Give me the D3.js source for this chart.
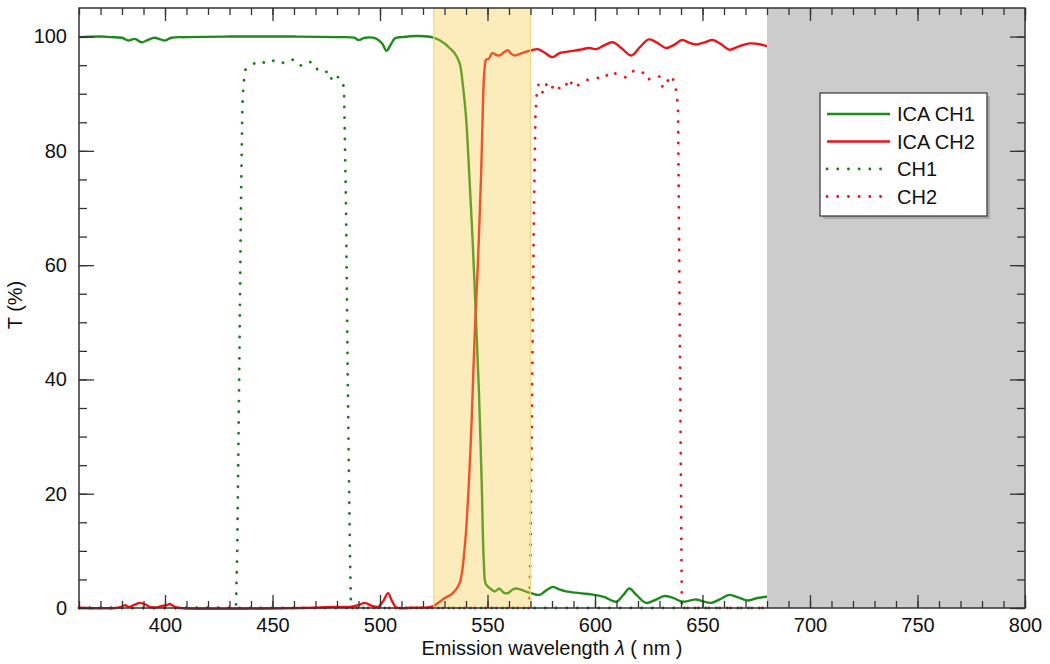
<!DOCTYPE html>
<html>
<head>
<meta charset="utf-8">
<script src="https://cdn.jsdelivr.net/npm/d3@7"></script>
<style>
  body { margin: 0; background: #fff; }
  text { font-family: "Liberation Sans", Arial, Helvetica, sans-serif; }
</style>
</head>
<body>
<div id="chart"></div>
<script>

///////////////////////////////////////////////////////////////////////////
///////////////////////////////// Data ////////////////////////////////////
///////////////////////////////////////////////////////////////////////////

// ICA CH1 (solid green) - wavelength (nm) / transmission (%)
var ica1Wl = [360, 370, 375, 380, 383, 386, 389, 392, 395, 398, 400, 403, 410, 430, 460, 480, 488, 490, 493, 498, 501, 503, 505, 507, 510, 518, 525, 530, 532.4, 534.7, 537, 538.6, 540, 541.5, 543, 544.5, 546, 547.3, 548.3, 549.2, 551, 553.3, 555.6, 557.5, 559.5, 561.5, 563.4, 567, 570.3, 574.2, 577, 580.4, 583, 586.6, 592.8, 599.7, 604.4, 609.8, 613, 616, 619, 623.7, 628, 632.3, 636, 640.8, 644, 647, 650, 654, 658, 662.5, 667, 671, 675, 680.3]
var ica1T  = [99.9, 100, 99.9, 99.8, 99.3, 99.6, 99.0, 99.4, 99.8, 99.5, 99.3, 99.8, 99.9, 100, 100, 99.9, 99.8, 99.4, 99.8, 99.7, 98.8, 97.5, 98.6, 99.7, 99.9, 100.1, 99.8, 98.8, 98.0, 97.1, 95.4, 91.3, 86, 76, 65, 52, 38, 22, 8, 4.2, 3.5, 2.9, 3.4, 2.7, 2.6, 3.2, 3.4, 3.0, 2.6, 2.3, 3.0, 3.7, 3.3, 2.9, 2.6, 2.3, 1.9, 1.1, 2.2, 3.4, 2.4, 0.9, 1.4, 2.1, 1.8, 1.1, 1.3, 1.5, 1.2, 0.9, 1.5, 2.3, 1.8, 1.3, 1.7, 2.0]

// ICA CH2 (solid red)
var ica2Wl = [360, 378, 380, 381.5, 383, 386, 388.3, 391, 393, 396, 399, 401, 402.3, 404, 406, 470, 478, 486, 490, 493, 496, 499, 501.5, 503.7, 505.5, 507.6, 515, 522, 524.6, 530, 533.9, 537, 539.3, 540.9, 542.4, 543.5, 544.4, 545.5, 546.3, 547.1, 547.9, 548.6, 549.4, 550.6, 552.2, 554, 555.6, 557.5, 559.5, 561, 562.6, 566, 570.3, 573.4, 576.5, 578.8, 580.4, 583.5, 588, 593, 597.4, 600.5, 604, 608.2, 612.5, 616.8, 621, 625, 629, 633, 637, 640.5, 644, 647, 651, 654.7, 658.5, 662.5, 667, 671.8, 676, 681]
var ica2T  = [0.05, 0.05, 0.3, 0.5, 0.2, 0.6, 0.9, 0.6, 0.2, 0.1, 0.4, 0.5, 0.7, 0.3, 0.05, 0.05, 0.2, 0.2, 0.5, 0.9, 0.4, 0.2, 1.2, 2.6, 1.3, 0.1, 0.05, 0.1, 0.3, 1.7, 2.6, 4.3, 10.2, 18.9, 30.6, 42.3, 51, 60, 68, 76.7, 88.4, 94.2, 96, 96.1, 97.1, 96.8, 96.7, 97.2, 97.6, 97.0, 96.7, 97.1, 97.6, 97.8, 97.2, 96.6, 96.4, 97.1, 97.4, 97.7, 98.0, 97.8, 98.4, 99.0, 97.9, 96.7, 98.2, 99.5, 98.9, 98.0, 98.6, 99.4, 98.9, 98.6, 99.0, 99.4, 98.7, 97.7, 98.3, 98.8, 98.7, 98.2]

// CH1 (dotted green)
var ch1Wl = [360, 433, 433.6, 434.5, 435.3, 436, 436.6, 437.4, 440.2, 443.8, 447.8, 451.5, 455.6, 459.6, 463, 465.5, 468.9, 471.2, 474.2, 476.3, 477.8, 480.5, 482.8, 483.3, 484.2, 485, 486, 486.5, 680]
var ch1T  = [0, 0, 10, 40, 70, 88, 92, 94.2, 95.0, 95.8, 95.2, 96.0, 95.3, 96.0, 94.9, 95.6, 95.5, 94.0, 93.7, 94.0, 92.1, 92.9, 92.1, 90, 70, 40, 10, 0, 0]

// CH2 (dotted red)
var ch2Wl = [360, 569.5, 570, 570.8, 571.6, 572.3, 572.9, 573.7, 575.4, 577, 579.1, 581.6, 584, 586.1, 587.8, 590.4, 593.2, 596.9, 600.8, 604.1, 607, 611, 614.7, 618.2, 621.9, 624.3, 627.5, 630.2, 631.5, 633.2, 635.4, 637.4, 637.8, 638.6, 639.2, 639.8, 640.4, 680]
var ch2T  = [0, 0, 10, 40, 70, 86, 90.0, 91.6, 90.1, 91.8, 90.6, 91.8, 90.7, 91.1, 92.6, 91.0, 91.8, 92.5, 92.8, 92.6, 93.9, 93.3, 92.8, 94.1, 93.9, 92.4, 93.0, 93.0, 91.0, 91.9, 93.2, 91.7, 89.9, 88, 60, 30, 0, 0]

// shaded bands (nm)
var bandYellow = [525, 570]
var bandGray = [680, 800]

var legendLabels = ["ICA CH1", "ICA CH2", "CH1", "CH2"]

///////////////////////////////////////////////////////////////////////////
///////////////////////////////// Setup ///////////////////////////////////
///////////////////////////////////////////////////////////////////////////

var W = 1050, H = 664
var margin = {top: 8, right: 25, bottom: 56, left: 79}
var width = W - margin.left - margin.right
var height = H - margin.top - margin.bottom

var green = "#1e8a1e", red = "#e8161b"

var svg = d3.select("#chart").append("svg")
    .attr("width", W)
    .attr("height", H)
  .append("g")
    .attr("transform", "translate(" + margin.left + "," + margin.top + ")")

var x = d3.scaleLinear().domain([360, 800]).range([0, width])
var y = d3.scaleLinear().domain([0, 105]).range([height, 0])

var series = [
  {wl: ch1Wl, t: ch1T, color: "#1a7d1a", dotted: true},
  {wl: ch2Wl, t: ch2T, color: red, dotted: true},
  {wl: ica1Wl, t: ica1T, color: green, dotted: false},
  {wl: ica2Wl, t: ica2T, color: red, dotted: false}
]

var line = d3.line()
  .x(d => x(d[0]))
  .y(d => y(d[1]))
  .curve(d3.curveCatmullRom.alpha(0.5))

var lineLinear = d3.line()
  .x(d => x(d[0]))
  .y(d => y(d[1]))

//////////////////////////////// Curves ///////////////////////////////////
svg.append("g").selectAll("path")
    .data(series)
  .enter().append("path")
    .attr("d", s => (s.dotted ? lineLinear : line)(s.wl.map((w, i) => [w, s.t[i]])))
    .style("fill", "none")
    .style("stroke", s => s.color)
    .style("stroke-width", s => s.dotted ? 2.8 : 2.4)
    .style("stroke-linecap", s => s.dotted ? "round" : "butt")
    .style("stroke-linejoin", "round")
    .style("stroke-dasharray", s => s.dotted ? "0.1,10.6" : null)

//////////////////////////////// Bands ////////////////////////////////////
svg.append("rect")
    .attr("x", x(bandYellow[0]))
    .attr("y", 0)
    .attr("width", x(bandYellow[1]) - x(bandYellow[0]))
    .attr("height", height)
    .style("fill", "rgb(245,200,60)")
    .style("fill-opacity", 0.35)

svg.selectAll(".bandEdge")
    .data(bandYellow)
  .enter().append("line")
    .attr("x1", d => x(d)).attr("x2", d => x(d))
    .attr("y1", 0).attr("y2", height)
    .style("stroke", "#f2d77e")
    .style("stroke-width", 1.2)

svg.append("rect")
    .attr("x", x(bandGray[0]))
    .attr("y", 0)
    .attr("width", x(bandGray[1]) - x(bandGray[0]))
    .attr("height", height)
    .style("fill", "#cccccc")

//////////////////////////////// Axes /////////////////////////////////////
var xMinor = d3.range(360, 801, 10)
var xMajor = d3.range(400, 801, 50)
var yMinor = d3.range(0, 105, 5)
var yMajor = d3.range(0, 101, 20)

function styleAxis(g) {
  g.select(".domain").remove()
  g.selectAll("line").style("stroke", "#333").style("stroke-width", 1.3)
  g.selectAll("text").style("font-size", "20px").style("fill", "#111")
}

svg.append("g").attr("transform", "translate(0," + height + ")")
  .call(d3.axisBottom(x).tickValues(xMinor).tickSize(-7).tickFormat(""))
  .call(styleAxis)
svg.append("g").attr("transform", "translate(0," + height + ")")
  .call(d3.axisBottom(x).tickValues(xMajor).tickSize(-13).tickPadding(10).tickFormat(d3.format("d")))
  .call(styleAxis)
svg.append("g")
  .call(d3.axisTop(x).tickValues(xMinor).tickSize(-7).tickFormat(""))
  .call(styleAxis)
svg.append("g")
  .call(d3.axisTop(x).tickValues(xMajor).tickSize(-13).tickFormat(""))
  .call(styleAxis)

svg.append("g")
  .call(d3.axisLeft(y).tickValues(yMinor).tickSize(-8).tickFormat(""))
  .call(styleAxis)
svg.append("g")
  .call(d3.axisLeft(y).tickValues(yMajor).tickSize(-15).tickPadding(12).tickFormat(d3.format("d")))
  .call(styleAxis)
svg.append("g").attr("transform", "translate(" + width + ",0)")
  .call(d3.axisRight(y).tickValues(yMinor).tickSize(-8).tickFormat(""))
  .call(styleAxis)
svg.append("g").attr("transform", "translate(" + width + ",0)")
  .call(d3.axisRight(y).tickValues(yMajor).tickSize(-15).tickFormat(""))
  .call(styleAxis)

svg.append("rect")
    .attr("width", width)
    .attr("height", height)
    .style("fill", "none")
    .style("stroke", "#333")
    .style("stroke-width", 1.5)

// bottom of the solid curves sits on the axis line
svg.append("g").selectAll("path")
    .data(series.filter(s => !s.dotted))
  .enter().append("path")
    .attr("d", s => line(s.wl.map((w, i) => [w, s.t[i]]).filter(d => d[1] < 1.5 && (d[0] < bandYellow[0] || d[0] > bandYellow[1]))))
    .style("display", "none")

//////////////////////////////// Labels ///////////////////////////////////
var xl = svg.append("text")
    .attr("x", width / 2)
    .attr("y", height + 47)
    .attr("text-anchor", "middle")
    .style("font-size", "20px")
    .style("fill", "#111")
xl.append("tspan").text("Emission wavelength ")
xl.append("tspan").style("font-style", "italic").text("λ")
xl.append("tspan").text(" ( nm )")

svg.append("text")
    .attr("transform", "translate(" + (-57) + "," + (height / 2 - 3) + ") rotate(-90)")
    .attr("text-anchor", "middle")
    .style("font-size", "20px")
    .style("fill", "#111")
    .text("T (%)")

//////////////////////////////// Legend ///////////////////////////////////
var legX = 820 - margin.left, legY = 93 - margin.top
var legW = 167, legH = 123
var legend = svg.append("g").attr("transform", "translate(" + legX + "," + legY + ")")

legend.append("rect")
    .attr("x", 3).attr("y", 3)
    .attr("width", legW).attr("height", legH)
    .style("fill", "#a9a9a9")
legend.append("rect")
    .attr("width", legW).attr("height", legH)
    .style("fill", "#fff")
    .style("stroke", "#333")
    .style("stroke-width", 1.2)

var legendSeries = [series[2], series[3], series[0], series[1]]
var rows = legend.selectAll(".row")
    .data(legendSeries)
  .enter().append("g")
    .attr("transform", (d, i) => "translate(0," + (21 + i * 27.5) + ")")

rows.append("line")
    .attr("x1", 7).attr("x2", 70)
    .attr("y1", 0).attr("y2", 0)
    .style("stroke", d => d.color)
    .style("stroke-width", d => d.dotted ? 2.8 : 2.4)
    .style("stroke-linecap", d => d.dotted ? "round" : "butt")
    .style("stroke-dasharray", d => d.dotted ? "0.1,10.6" : null)

rows.append("text")
    .attr("x", 77)
    .attr("y", 7)
    .style("font-size", "20px")
    .style("fill", "#111")
    .text((d, i) => legendLabels[i])

</script>
</body>
</html>
